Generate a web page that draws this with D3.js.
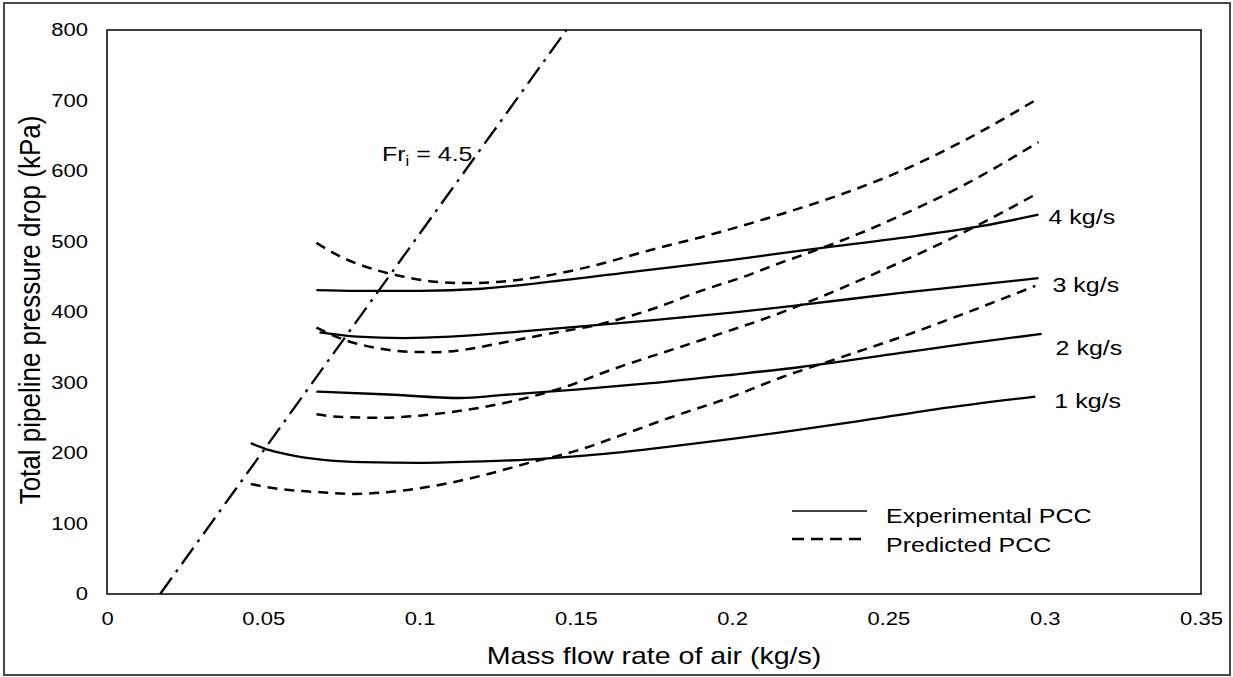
<!DOCTYPE html>
<html>
<head>
<meta charset="utf-8">
<script src="https://cdn.jsdelivr.net/npm/d3@7"></script>
<style>
  body { margin: 0; background: #fff; }
  text { font-family: Arial, "Liberation Sans", sans-serif; fill: #000; }
</style>
</head>
<body>
<div id="chart"></div>
<script>
// Tick values
var xTicks = [0, 0.05, 0.1, 0.15, 0.2, 0.25, 0.3, 0.35];
var yTicks = [0, 100, 200, 300, 400, 500, 600, 700, 800];

// Experimental PCC curves [mass flow of air, pressure drop]
var exp1 = [[0.046,214],[0.052,204],[0.06,196],[0.07,190],[0.082,187],[0.1,186],[0.12,188],[0.14,192],[0.16,199],[0.18,209],[0.2,220],[0.215,229],[0.24,245],[0.265,262],[0.297,280]];
var exp2 = [[0.067,287],[0.09,283],[0.113,278],[0.126,282],[0.15,290],[0.174,299],[0.2,311],[0.222,322],[0.254,342],[0.275,355],[0.299,369]];
var exp3 = [[0.068,371],[0.08,365],[0.095,363],[0.11,365],[0.126,370],[0.15,379],[0.174,388],[0.2,399],[0.222,410],[0.254,427],[0.275,437],[0.298,448]];
var exp4 = [[0.067,431],[0.08,430],[0.1,430],[0.12,433],[0.14,442],[0.17,458],[0.2,474],[0.222,487],[0.254,505],[0.28,522],[0.298,538]];

// Predicted PCC curves
var pred1 = [[0.046,156],[0.055,149],[0.066,145],[0.079,142],[0.093,146],[0.109,157],[0.12,168],[0.135,186],[0.15,203],[0.165,226],[0.18,250],[0.2,280],[0.215,306],[0.235,336],[0.255,366],[0.275,399],[0.297,437]];
var pred2 = [[0.067,255],[0.075,251],[0.087,250],[0.1,253],[0.11,258],[0.125,269],[0.135,279],[0.15,299],[0.157,311],[0.19,360],[0.215,398],[0.222,410],[0.25,463],[0.275,515],[0.298,569]];
var pred3 = [[0.067,378],[0.075,362],[0.085,350],[0.095,344],[0.105,343],[0.115,347],[0.126,356],[0.14,368],[0.158,383],[0.175,405],[0.19,430],[0.205,452],[0.215,469],[0.222,480],[0.24,510],[0.254,537],[0.275,582],[0.298,641]];
var pred4 = [[0.067,498],[0.075,478],[0.085,461],[0.095,450],[0.105,443],[0.115,441],[0.126,443],[0.14,451],[0.155,465],[0.174,488],[0.195,512],[0.215,538],[0.235,567],[0.254,600],[0.275,645],[0.298,703]];

// Fr_i = 4.5 line
var frLine = [[0.017,0],[0.147,800]];

var rateLabels = ["1 kg/s", "2 kg/s", "3 kg/s", "4 kg/s"];

// svg size
var svgWidth = 1233;
var svgHeight = 677;
var plot = { left: 107, right: 1201, top: 30, bottom: 594 };
var stretch = 1.19; // text in the reference is wider than tall

var svg = d3.select("#chart")
    .append("svg")
    .attr("width", svgWidth)
    .attr("height", svgHeight);

// outer frame
svg.append("rect")
    .attr("x", 4).attr("y", 3)
    .attr("width", 1226).attr("height", 672)
    .attr("fill", "none")
    .attr("stroke", "#4a4a4a")
    .attr("stroke-width", 2);

var x = d3.scaleLinear().domain([0, 0.35]).range([plot.left, plot.right]);
var y = d3.scaleLinear().domain([0, 800]).range([plot.bottom, plot.top]);

// axes (no tick marks, labels only)
var xAxis = svg.append("g")
    .attr("transform", `translate(0, ${plot.bottom})`)
    .call(d3.axisBottom(x).tickValues(xTicks).tickSize(0).tickPadding(18)
        .tickFormat(d => String(+d.toFixed(2))));
var yAxis = svg.append("g")
    .attr("transform", `translate(${plot.left}, 0)`)
    .call(d3.axisLeft(y).tickValues(yTicks).tickSize(0).tickPadding(16));

[xAxis, yAxis].forEach(function (g) {
    g.select(".domain").remove();
    g.selectAll("text")
        .attr("font-size", 18.5)
        .attr("font-family", "Arial, 'Liberation Sans', sans-serif")
        .attr("fill", "#000")
        .attr("transform", `scale(${stretch},1)`);
});

// plot border
svg.append("rect")
    .attr("x", plot.left).attr("y", plot.top)
    .attr("width", plot.right - plot.left).attr("height", plot.bottom - plot.top)
    .attr("fill", "none")
    .attr("stroke", "#000")
    .attr("stroke-width", 1.5);

var line = d3.line()
    .x(d => x(d[0]))
    .y(d => y(d[1]))
    .curve(d3.curveMonotoneX);

var expSeries = [exp1, exp2, exp3, exp4];
var predSeries = [pred1, pred2, pred3, pred4];

svg.append("g").selectAll("path")
    .data(predSeries)
    .enter()
    .append("path")
    .attr("d", line)
    .attr("fill", "none")
    .attr("stroke", "#000")
    .attr("stroke-width", 2.5)
    .attr("stroke-dasharray", "10,7");

svg.append("g").selectAll("path")
    .data(expSeries)
    .enter()
    .append("path")
    .attr("d", line)
    .attr("fill", "none")
    .attr("stroke", "#000")
    .attr("stroke-width", 2.3);

svg.append("path")
    .attr("d", d3.line().x(d => x(d[0])).y(d => y(d[1]))(frLine))
    .attr("fill", "none")
    .attr("stroke", "#000")
    .attr("stroke-width", 2.3)
    .attr("stroke-dasharray", "20,7,3,7");

// helper for stretched text
function label(px, py, size, anchor) {
    return svg.append("g")
        .attr("transform", `translate(${px}, ${py}) scale(${stretch},1)`)
        .append("text")
        .attr("font-size", size)
        .attr("text-anchor", anchor || "start");
}

// flow-rate labels at the right end of each experimental curve
var labelOffsets = [[19, 11], [14, 21], [14, 14], [10, 9]];
expSeries.forEach(function (s, i) {
    var last = s[s.length - 1];
    label(x(last[0]) + labelOffsets[i][0], y(last[1]) + labelOffsets[i][1], 21).text(rateLabels[i]);
});

// Fr_i label
var fr = label(382, 161, 21);
fr.append("tspan").text("Fr");
fr.append("tspan").attr("font-size", 14).attr("dy", 5).text("i");
fr.append("tspan").attr("dy", -5).text(" = 4.5");

// axis titles
label((plot.left + plot.right) / 2, 664, 24, "middle").text("Mass flow rate of air (kg/s)");

svg.append("g")
    .attr("transform", `translate(40, ${(plot.top + plot.bottom) / 2 - 2}) scale(1.1,1) rotate(-90)`)
    .append("text")
    .attr("font-size", 26)
    .attr("text-anchor", "middle")
    .text("Total pipeline pressure drop (kPa)");

// legend
var legend = svg.append("g");
legend.append("line")
    .attr("x1", 792).attr("x2", 867).attr("y1", 511).attr("y2", 511)
    .attr("stroke", "#000").attr("stroke-width", 1.5);
legend.append("line")
    .attr("x1", 792).attr("x2", 862).attr("y1", 539).attr("y2", 539)
    .attr("stroke", "#000").attr("stroke-width", 2.4)
    .attr("stroke-dasharray", "12,7");
label(886, 523, 21).text("Experimental PCC");
label(886, 552, 21).text("Predicted PCC");
</script>
</body>
</html>
